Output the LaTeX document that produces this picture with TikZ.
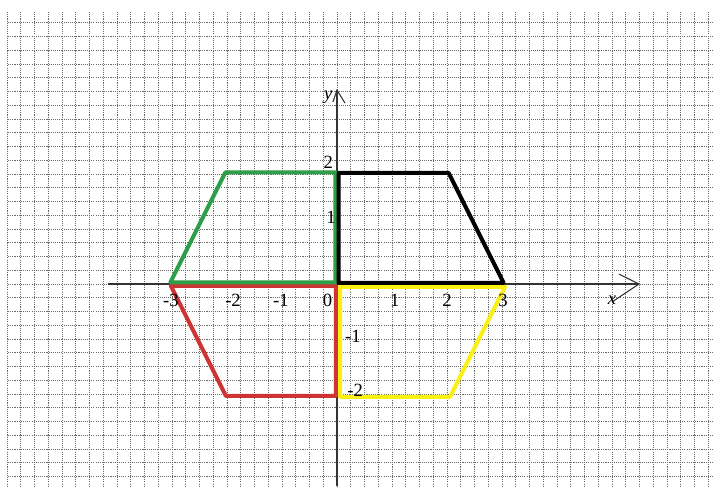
\documentclass[tikz,border=0pt]{standalone}
\usepackage{fontspec}
\setmainfont{Liberation Serif}
\definecolor{gridgray}{RGB}{105,105,105}
\definecolor{shgreen}{RGB}{46,158,72}
\definecolor{shred}{RGB}{206,52,52}
\definecolor{shyellow}{RGB}{250,240,20}
\begin{document}
\begin{tikzpicture}[x=41.25pt,y=41.25pt,
  gridline/.style={gridgray,line width=0.7pt,dash pattern=on 0.8pt off 0.8pt},
  axisline/.style={black!80,line width=0.8pt},
  shapeline/.style={line width=3pt,line join=round},
  lbl/.style={font=\fontsize{14}{14}\selectfont,inner sep=0pt},
  axlbl/.style={font=\fontsize{14}{14}\selectfont\itshape,inner sep=0pt}]
\useasboundingbox[fill=white] (-6.127,-3.673) rectangle (6.836,5.164);
% grid
\foreach \k in {-24,...,27}{
  \draw[gridline] (\k*0.25,4.945) -- (\k*0.25,-3.673);
}
\foreach \k in {-14,...,19}{
  \draw[gridline] (-5.98,\k*0.25) -- (6.836,\k*0.25);
}
% axes
\coordinate (xs) at (-4.164,0);
\coordinate (xt) at (5.49,0);
\coordinate (xa1) at (5.127,0.18);
\coordinate (xa2) at (5.0,-0.327);
\coordinate (ys) at (0,-3.673);
\coordinate (yt) at (0,3.527);
\coordinate (ya1) at (-0.073,3.31);
\coordinate (ya2) at (0.145,3.29);
\draw[axisline] (xs) -- (xt);
\draw[axisline] (xa1) -- (xt) -- (xa2);
\draw[axisline] (ys) -- (yt);
\draw[axisline] (ya1) -- (yt) -- (ya2);
% shapes
\draw[shapeline,shred,shift={(-0.02,-0.035)}] (0,0) -- (-3,0) -- (-2,-2) -- (0,-2) -- cycle;
\draw[shapeline,shyellow,shift={(0.055,-0.05)}] (0,0) -- (3,0) -- (2,-2) -- (0,-2) -- cycle;
\draw[shapeline,shgreen,shift={(-0.03,0.03)}] (0,0) -- (0,2) -- (-2,2) -- (-3,0) -- cycle;
\draw[shapeline,black,shift={(0.03,0.02)}] (0,0) -- (0,2) -- (2,2) -- (3,0) -- cycle;
% labels
\node[axlbl] (ylab) at (-0.16,3.40) {y};
\node[axlbl] (xlab) at (5.0,-0.29) {x};
\node[lbl] (xm3) at (-3.02,-0.29) {-3};
\node[lbl] (xm2) at (-1.89,-0.29) {-2};
\node[lbl] (xm1) at (-1.02,-0.29) {-1};
\node[lbl] (x0) at (-0.17,-0.29) {0};
\node[lbl] (x1) at (1.05,-0.29) {1};
\node[lbl] (x2) at (2.0,-0.29) {2};
\node[lbl] (x3) at (3.02,-0.29) {3};
\node[lbl] (y2) at (-0.16,2.22) {2};
\node[lbl] (y1) at (-0.11,1.22) {1};
\node[lbl] (ym1) at (0.29,-0.96) {-1};
\node[lbl] (ym2) at (0.33,-1.93) {-2};
\end{tikzpicture}
\end{document}
